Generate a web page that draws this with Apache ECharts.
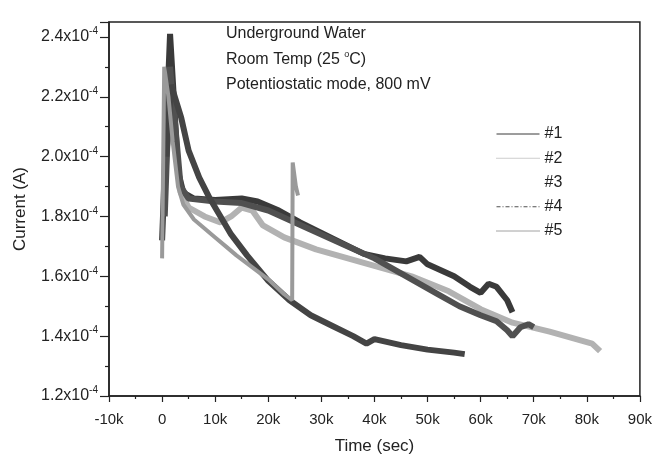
<!DOCTYPE html>
<html>
<head>
<meta charset="utf-8">
<script src="https://cdn.jsdelivr.net/npm/echarts@6/dist/echarts.min.js"></script>
<style>
  html, body { margin: 0; padding: 0; background: #fff; }
  #chart { width: 655px; height: 460px; }
</style>
</head>
<body>
<div id="chart"></div>
<script>
// time in seconds, current in units of 1e-4 A
const run1 = [[0, 1.72], [800, 2.1], [1500, 2.41], [2200, 2.2], [3000, 1.95], [4000, 1.88], [6000, 1.86],
    [10000, 1.855], [15000, 1.86], [18000, 1.85], [22000, 1.82], [26000, 1.78], [30000, 1.745],
    [34000, 1.71], [38000, 1.675], [42000, 1.66], [46000, 1.65], [48500, 1.665], [50000, 1.64],
    [55000, 1.6], [58000, 1.565], [60000, 1.545], [61500, 1.575], [63000, 1.565], [65000, 1.52], [66000, 1.48]];
const run2 = [[0, 1.66], [400, 2.3], [1200, 2.2], [2000, 2.05], [3000, 1.9], [4000, 1.84], [6000, 1.79],
    [8000, 1.76], [10000, 1.73], [12000, 1.7], [14000, 1.67], [17000, 1.63], [20000, 1.59],
    [23000, 1.54], [24500, 1.52], [24600, 1.98], [25200, 1.9], [25600, 1.87]];
const run3 = [[500, 1.9], [1500, 2.2], [2500, 2.05], [3500, 1.88], [5000, 1.83], [8000, 1.8], [11000, 1.78],
    [13000, 1.8], [15000, 1.83], [17000, 1.82], [19000, 1.77], [23000, 1.73], [29000, 1.69],
    [35000, 1.66], [41000, 1.63], [47000, 1.6], [54000, 1.55], [60000, 1.49], [66000, 1.445],
    [73000, 1.415], [79000, 1.385], [81000, 1.375], [82500, 1.35]];
const run4 = [[500, 1.8], [1500, 2.3], [2500, 2.1], [3500, 1.9], [5000, 1.86], [10000, 1.85], [15000, 1.845],
    [20000, 1.82], [25000, 1.78], [30000, 1.74], [35000, 1.7], [40000, 1.66], [44000, 1.62],
    [48000, 1.58], [52000, 1.54], [56000, 1.5], [60000, 1.47], [63000, 1.45], [65000, 1.42],
    [66000, 1.4], [67500, 1.43], [69000, 1.44], [70000, 1.43]];
const run5 = [[800, 2.0], [1700, 2.24], [3600, 2.13], [5000, 2.02], [7000, 1.93], [9000, 1.86], [11000, 1.8],
    [13000, 1.74], [16000, 1.67], [20000, 1.585], [24000, 1.52], [28000, 1.47], [32000, 1.435],
    [36000, 1.4], [38500, 1.375], [40000, 1.39], [45000, 1.37], [50000, 1.355], [55000, 1.345], [57000, 1.34]];

const names = ['#1', '#2', '#3', '#4', '#5'];
const runs = [run1, run2, run3, run4, run5];
const colors = ['#3a3a3a', '#9a9a9a', '#b2b2b2', '#505050', '#444444'];
const legendTypes = ['solid', 'dotted', 'solid', [4, 2, 1, 2], 'dotted'];

const font = 'Liberation Sans, Arial, sans-serif';
const chart = echarts.init(document.getElementById('chart'));

chart.setOption({
    backgroundColor: '#fff',
    animation: false,
    textStyle: { fontFamily: font, color: '#222' },
    grid: {
        left: 109, right: 14, top: 22, bottom: 62,
        show: true, borderColor: '#222', borderWidth: 1.5
    },
    legend: {
        orient: 'vertical',
        left: 491, top: 121,
        itemWidth: 43, itemHeight: 14, itemGap: 8.25,
        textStyle: { fontSize: 16, color: '#222', fontFamily: font },
        data: names.map((n, i) => ({
            name: n,
            itemStyle: { opacity: 0 },
            lineStyle: { width: 1, type: legendTypes[i], opacity: i === 2 ? 0 : 1 }
        }))
    },
    graphic: [
        {
            type: 'text', left: 226, top: 26,
            style: { text: 'Underground Water', font: '16px ' + font, fill: '#222' }
        },
        {
            type: 'text', left: 226, top: 50,
            style: {
                text: '{a|Room Temp (25 }{s|o}{a|C)}',
                rich: {
                    a: { font: '16px ' + font, fill: '#222' },
                    s: { font: '9px ' + font, fill: '#222', padding: [0, 0, 10, 0] }
                }
            }
        },
        {
            type: 'text', left: 226, top: 77,
            style: { text: 'Potentiostatic mode, 800 mV', font: '16px ' + font, fill: '#222' }
        }
    ],
    xAxis: {
        type: 'value',
        min: -10000, max: 90000, interval: 10000,
        name: 'Time (sec)', nameLocation: 'middle', nameGap: 42,
        nameTextStyle: { fontSize: 17, color: '#222' },
        axisLine: { onZero: false, lineStyle: { color: '#222', width: 1.5 } },
        axisTick: { length: 6, lineStyle: { color: '#222', width: 1.2 } },
        minorTick: { show: true, splitNumber: 2, length: 3, lineStyle: { color: '#222', width: 1.2 } },
        splitLine: { show: false },
        axisLabel: {
            fontSize: 15, color: '#222', margin: 16,
            formatter: v => v === 0 ? '0' : (v / 1000) + 'k'
        }
    },
    yAxis: {
        type: 'value',
        min: 1.2, max: 2.45, interval: 0.2,
        name: 'Current (A)', nameLocation: 'middle', nameGap: 80,
        nameTextStyle: { fontSize: 17, color: '#222' },
        axisLine: { onZero: false, lineStyle: { color: '#222', width: 1.5 } },
        axisTick: { length: 9, lineStyle: { color: '#222', width: 1.2 } },
        minorTick: { show: true, splitNumber: 2, length: 4, lineStyle: { color: '#222', width: 1.2 } },
        splitLine: { show: false },
        axisLabel: {
            margin: 11,
            formatter: v => '{a|' + v.toFixed(1) + 'x10}{s|-4}',
            rich: {
                a: { fontSize: 16, color: '#222', fontFamily: font },
                s: { fontSize: 10, color: '#222', fontFamily: font, padding: [0, 0, 11, 0] }
            }
        }
    },
    series: runs.map((d, i) => ({
        name: names[i],
        type: 'line',
        data: d,
        symbol: 'none',
        z: i === 1 ? 5 : 2 + i * 0.1,
        lineStyle: { color: colors[i], width: i === 1 ? 4 : 6 },
        itemStyle: { color: colors[i] }
    }))
});
</script>
</body>
</html>
